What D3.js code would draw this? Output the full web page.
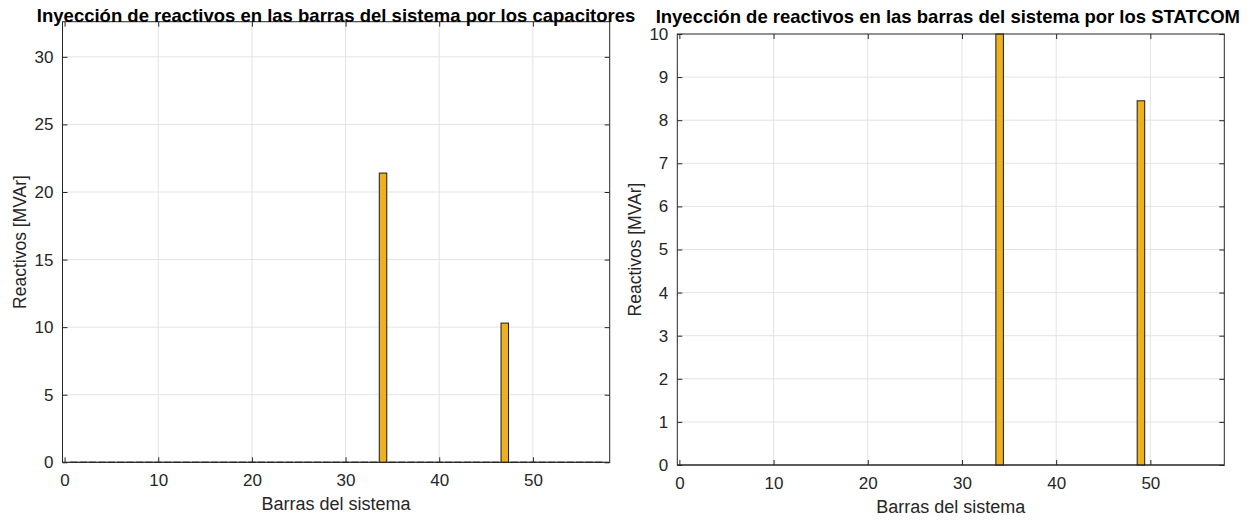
<!DOCTYPE html>
<html>
<head>
<meta charset="utf-8">
<script src="https://cdn.jsdelivr.net/npm/d3@7"></script>
<style>
  html, body { margin: 0; padding: 0; background: #fff; }
  svg { display: block; font-family: "Liberation Sans", Arial, sans-serif; }
</style>
</head>
<body>
<svg id="chart" width="1260" height="523"></svg>
<script>
// Bus numbers of the 57-bus system
const buses = [
  1, 2, 3, 4, 5, 6, 7, 8, 9, 10, 11, 12, 13, 14, 15, 16, 17, 18, 19, 20,
  21, 22, 23, 24, 25, 26, 27, 28, 29, 30, 31, 32, 33, 34, 35, 36, 37, 38, 39, 40,
  41, 42, 43, 44, 45, 46, 47, 48, 49, 50, 51, 52, 53, 54, 55, 56, 57
];

// Reactive injection by the capacitor banks [MVAr]
const capacitorQ = [
  0, 0, 0, 0, 0, 0, 0, 0, 0, 0, 0, 0, 0, 0, 0, 0, 0, 0, 0, 0,
  0, 0, 0, 0, 0, 0, 0, 0, 0, 0, 0, 0, 0, 21.4, 0, 0, 0, 0, 0, 0,
  0, 0, 0, 0, 0, 0, 10.3, 0, 0, 0, 0, 0, 0, 0, 0, 0, 0
];

// Reactive injection by the STATCOMs [MVAr]
const statcomQ = [
  0, 0, 0, 0, 0, 0, 0, 0, 0, 0, 0, 0, 0, 0, 0, 0, 0, 0, 0, 0,
  0, 0, 0, 0, 0, 0, 0, 0, 0, 0, 0, 0, 0, 10, 0, 0, 0, 0, 0, 0,
  0, 0, 0, 0, 0, 0, 0, 0, 8.45, 0, 0, 0, 0, 0, 0, 0, 0
];

const xTicks = [0, 10, 20, 30, 40, 50];
const yTicksCap = [0, 5, 10, 15, 20, 25, 30];
const yTicksStat = [0, 1, 2, 3, 4, 5, 6, 7, 8, 9, 10];

const xLabel = "Barras del sistema";
const yLabel = "Reactivos [MVAr]";
const titleCap = "Inyección de reactivos en las barras del sistema por los capacitores";
const titleStat = "Inyección de reactivos en las barras del sistema por los STATCOM";

const svg = d3.select("#chart");

const AXIS = "#262626";
const GRID = "#e3e3e3";
const BAR = "#EDB120";

function panel(opts) {
  const { left, right, top, bottom, xDomain, yDomain, values, yTicks, title, titleY, titleDx, zeroEdges, labelX } = opts;
  const g = svg.append("g");

  const x = d3.scaleLinear().domain(xDomain).range([left, right]);
  const y = d3.scaleLinear().domain(yDomain).range([bottom, top]);

  // plot background
  g.append("rect").attr("x", left).attr("y", top)
    .attr("width", right - left).attr("height", bottom - top).attr("fill", "#fff");

  // grid
  g.append("g").selectAll("line").data(xTicks.filter(t => t > xDomain[0] + 0.5))
    .join("line")
    .attr("x1", d => x(d)).attr("x2", d => x(d))
    .attr("y1", top).attr("y2", bottom)
    .attr("stroke", GRID).attr("stroke-width", 1);
  g.append("g").selectAll("line").data(yTicks.filter(t => t > yDomain[0] && t < yDomain[1]))
    .join("line")
    .attr("x1", left).attr("x2", right)
    .attr("y1", d => y(d)).attr("y2", d => y(d))
    .attr("stroke", GRID).attr("stroke-width", 1);

  const bw = 0.8;
  const data = buses.map((b, i) => ({ b, v: values[i] }));

  // baseline
  g.append("line").attr("x1", left).attr("x2", right)
    .attr("y1", y(0)).attr("y2", y(0))
    .attr("stroke", zeroEdges ? "#8a8a8a" : AXIS).attr("stroke-width", 1.2);

  // zero-height bar edges along the baseline
  if (zeroEdges) {
    g.append("g").selectAll("line").data(data.filter(d => d.v === 0))
      .join("line")
      .attr("x1", d => x(d.b - bw / 2)).attr("x2", d => x(d.b + bw / 2))
      .attr("y1", y(0)).attr("y2", y(0))
      .attr("stroke", "#333").attr("stroke-width", 1.4);
  }

  // bars
  g.append("g").selectAll("rect").data(data.filter(d => d.v > 0))
    .join("rect")
    .attr("x", d => x(d.b - bw / 2))
    .attr("width", d => x(d.b + bw / 2) - x(d.b - bw / 2))
    .attr("y", d => y(Math.min(d.v, yDomain[1])))
    .attr("height", d => y(0) - y(Math.min(d.v, yDomain[1])))
    .attr("fill", BAR).attr("stroke", "#1a1a1a").attr("stroke-width", 1);

  // box
  g.append("rect").attr("x", left).attr("y", top)
    .attr("width", right - left).attr("height", bottom - top)
    .attr("fill", "none").attr("stroke", AXIS).attr("stroke-width", 1);

  // axes with inward ticks on all four sides
  const ax = g.append("g").attr("transform", `translate(0,${bottom})`)
    .call(d3.axisBottom(x).tickValues(xTicks).tickFormat(d3.format("d"))
      .tickSizeInner(-5).tickSizeOuter(0).tickPadding(12));
  const axTop = g.append("g").attr("transform", `translate(0,${top})`)
    .call(d3.axisTop(x).tickValues(xTicks).tickFormat("").tickSizeInner(-5).tickSizeOuter(0));
  const ay = g.append("g").attr("transform", `translate(${left},0)`)
    .call(d3.axisLeft(y).tickValues(yTicks).tickFormat(d3.format("d"))
      .tickSizeInner(-5).tickSizeOuter(0).tickPadding(9));
  const ayR = g.append("g").attr("transform", `translate(${right},0)`)
    .call(d3.axisRight(y).tickValues(yTicks).tickFormat("").tickSizeInner(-5).tickSizeOuter(0));

  [ax, axTop, ay, ayR].forEach(a => {
    a.select(".domain").remove();
    a.selectAll("line").attr("stroke", AXIS);
    a.selectAll("text").attr("fill", AXIS).attr("font-size", 17)
      .attr("font-family", "'Liberation Sans', Arial, sans-serif");
  });

  // titles and axis labels
  g.append("text").attr("x", (left + right) / 2 + titleDx).attr("y", titleY)
    .attr("text-anchor", "middle").attr("font-weight", "bold")
    .attr("font-size", 18.5).attr("fill", "#000").text(title);

  g.append("text").attr("x", (left + right) / 2).attr("y", bottom + 48)
    .attr("text-anchor", "middle").attr("font-size", 18)
    .attr("fill", AXIS).text(xLabel);

  g.append("text")
    .attr("transform", `translate(${labelX},${(top + bottom) / 2}) rotate(-90)`)
    .attr("text-anchor", "middle").attr("font-size", 17.5)
    .attr("fill", AXIS).text(yLabel);
}

panel({
  left: 62.5, right: 609.7, top: 21.7, bottom: 462.3,
  xDomain: [-0.22, 58.2], yDomain: [0, 32.6],
  values: capacitorQ, yTicks: yTicksCap,
  title: titleCap, titleY: 22, titleDx: 0, zeroEdges: true, labelX: 26
});

panel({
  left: 677.3, right: 1224.3, top: 34, bottom: 465,
  xDomain: [-0.22, 57.85], yDomain: [0, 10],
  values: statcomQ, yTicks: yTicksStat,
  title: titleStat, titleY: 23, titleDx: -3, zeroEdges: false, labelX: 641
});
</script>
</body>
</html>
